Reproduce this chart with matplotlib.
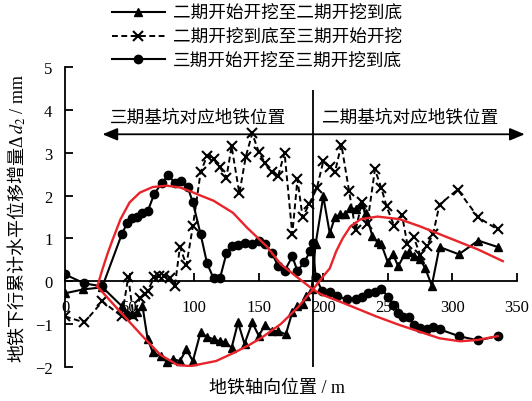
import matplotlib
matplotlib.use('Agg')
import matplotlib.pyplot as plt

plt.rcParams['font.family'] = ['Liberation Serif', 'Noto Sans CJK SC']
plt.rcParams['mathtext.fontset'] = 'stix'

# 二期开始开挖至二期开挖到底
x1 = [0, 14, 29, 44, 48, 52, 56, 60, 64, 68, 74, 79, 84, 89, 94, 99, 105, 110, 115, 120,
      124, 129, 134, 139, 145, 150, 155, 160, 165, 171, 176, 180, 184, 187, 191, 194, 200, 205, 209, 213,
      217, 221, 225, 229, 233, 238, 242, 245, 250, 254, 258, 263, 266, 270, 275, 279, 284, 290, 305, 320, 335]
y1 = [-0.28, -0.19, -0.14, -0.58, -0.77, -0.77, -0.72, -0.58, -1.35, -1.66,
      -1.75, -1.89, -1.82, -1.86, -1.59, -1.86, -1.19, -1.3, -1.35, -1.4,
      -1.42, -1.55, -0.96, -1.46, -0.96, -1.27, -1.02, -1.16, -1.16, -1.24,
      -0.72, -0.58, -0.54, -0.35, -0.19, 0.86, 1.98, 1.12, 1.49, 1.56,
      1.56, 1.72, 1.68, 1.8, 1.6, 1.05, 0.91, 0.86, 0.44, 0.63,
      0.35, 0.63, 0.68, 0.6, 0.51, 0.3, -0.1, 0.8, 0.63, 0.95, 0.8]

# 二期开挖到底至三期开始开挖
x2 = [0, 15, 29, 44, 49, 53, 58, 62, 64, 69, 73, 77, 81, 85, 89, 94, 99, 105, 110, 115,
      120, 125, 129, 135, 140, 145, 150, 155, 160, 165, 170, 176, 180, 184, 189, 195, 200, 205, 209, 214,
      220, 225, 230, 234, 240, 245, 249, 255, 261, 265, 270, 275, 280, 285, 290, 304, 320, 335]
y2 = [-0.82, -0.96, -0.47, -0.82, 0.1, -0.82, -0.4, -0.3, -0.23, 0.09,
      0.12, 0.12, 0.07, -0.12, 0.8, 0.38, 1.28, 2.54, 2.93, 2.86,
      2.66, 2.42, 3.15, 2.05, 2.91, 3.45, 3.02, 2.75, 2.56, 2.45,
      3.0, 1.1, 2.38, 1.49, 1.8, 2.17, 2.8, 2.67, 2.54, 3.19,
      2.1, 1.19, 1.86, 1.33, 2.61, 2.17, 1.75, 1.28, 1.54, 0.88,
      1.03, 0.62, 0.82, 1.1, 1.79, 2.14, 1.49, 1.21]

# 三期开始开挖至三期开挖到底
x3 = [0, 15, 29, 44, 48, 52, 56, 60, 64, 69, 75, 80, 85, 90, 95, 99, 105, 110, 115, 120,
      125, 129, 134, 139, 145, 150, 155, 160, 165, 170, 176, 180, 185, 190, 192, 194, 199, 205, 211, 218,
      225, 230, 235, 240, 245, 250, 254, 258, 262, 266, 270, 275, 280, 285, 290, 305, 320, 335]
y3 = [0.16, -0.05, -0.12, 1.1, 1.35, 1.47, 1.5, 1.6, 1.63, 2.03,
      2.3, 2.47, 2.3, 2.33, 2.2, 1.84, 1.1, 0.42, 0.07, 0.07,
      0.65, 0.82, 0.84, 0.89, 0.86, 0.93, 0.86, 0.67, 0.36, 0.24,
      0.58, 0.24, 0.44, 0.7, 0.9, 0.1, -0.22, -0.25, -0.35, -0.42,
      -0.42, -0.37, -0.28, -0.24, -0.17, -0.36, -0.55, -0.75, -0.84, -0.84,
      -1.02, -1.08, -1.12, -1.06, -1.12, -1.28, -1.38, -1.28]

# 拟合曲线
xa = [25, 29, 33, 37, 43, 50, 58, 68, 79, 89, 97, 105, 115, 130, 141, 156, 167, 180, 192, 198,
      215, 241, 259, 267, 290, 306, 319, 335]
ya = [-0.12, 0.28, 0.65, 0.98, 1.45, 1.84, 2.07, 2.2, 2.23, 2.19,
      2.1, 2.0, 1.88, 1.6, 1.25, 0.82, 0.4, 0.09, -0.19, -0.3,
      -0.5, -0.82, -1.02, -1.1, -1.33, -1.4, -1.37, -1.28]
xb = [25, 43, 60, 74, 87, 97, 117, 130, 143, 153, 167, 180, 192, 200, 205, 210, 215, 221, 229, 242,
      259, 275, 285, 300, 320, 339]
yb = [-0.12, -0.72, -1.28, -1.72, -1.95, -1.98, -1.86, -1.68, -1.48, -1.3,
      -1.0, -0.62, -0.19, 0.12, 0.3, 0.7, 1.0, 1.28, 1.45, 1.51,
      1.45, 1.28, 1.16, 0.98, 0.74, 0.47]

labels = ['二期开始开挖至二期开挖到底', '二期开挖到底至三期开始开挖', '三期开始开挖至三期开挖到底']
region_labels = ['三期基坑对应地铁位置', '二期基坑对应地铁位置']
divide_x = 192

fig = plt.figure(figsize=(5.32, 4.02), dpi=100)
ax = fig.add_axes([65 / 532, 34 / 402, 452 / 532, 300 / 402])

ax.plot(x1, y1, '-', color='black', lw=1.5, marker='^', ms=6, label=labels[0], zorder=3)
ax.plot(x2, y2, color='black', lw=1.4, ls=(0, (3, 1.8)), marker='x', ms=6.5, mew=1.5,
        label=labels[1], zorder=3)
ax.plot(x3, y3, '-', color='black', lw=1.5, marker='o', ms=6, label=labels[2], zorder=3)
ax.plot(xa, ya, color='#e8242a', lw=1.7, zorder=4)
ax.plot(xb, yb, color='#e8242a', lw=1.7, zorder=4)

# 分界线和双向箭头
ax.vlines(divide_x, -2, 4.47, color='black', lw=1.3, zorder=2)
ax.annotate('', xy=(356, 3.43), xytext=(29, 3.43), annotation_clip=False,
            arrowprops=dict(arrowstyle='<|-|>,head_length=0.6,head_width=0.25', color='black',
                            lw=1.3, shrinkA=0, shrinkB=0, mutation_scale=15))
ax.text(103, 3.82, region_labels[0], ha='center', va='center', fontsize=12.7)
ax.text(267, 3.82, region_labels[1], ha='center', va='center', fontsize=12.7)

ax.set_xlim(0, 350)
ax.set_ylim(-2, 5)
ax.set_xticks(range(0, 351, 50))
ax.set_yticks(range(-2, 6))
ax.spines['top'].set_visible(False)
ax.spines['right'].set_visible(False)
ax.spines['bottom'].set_position(('data', 0))
for s in ['left', 'bottom']:
    ax.spines[s].set_linewidth(1.3)
ax.tick_params(axis='both', direction='in', length=5.5, width=1.3, labelsize=12)
ax.tick_params(axis='x', pad=13)
ax.tick_params(axis='y', pad=9)

fig.legend(loc='upper left', bbox_to_anchor=(112 / 532, 1 - 6 / 402), frameon=False,
           fontsize=12.7, handlelength=3.0, handletextpad=0.45, labelspacing=0.38,
           borderpad=0, borderaxespad=0)

fig.text(277 / 532, 1 - 388 / 402, '地铁轴向位置 / m', ha='center', va='center', fontsize=13)

# 纵轴标题分两段拼接
ya_text = fig.text(18 / 532, 0, '地铁下行累计水平位移增量Δ', rotation=90,
                   ha='center', va='bottom', fontsize=13)
yb_text = fig.text(18 / 532, 0, '$d_2$ / mm', rotation=90, ha='center', va='bottom', fontsize=13)
r = fig.canvas.get_renderer()
ha_px = ya_text.get_window_extent(r).height
hb_px = yb_text.get_window_extent(r).height
start = (402 - 218) - (ha_px + hb_px) / 2
ya_text.set_y(start / 402)
yb_text.set_y((start + ha_px) / 402)

fig.savefig('out.png', dpi=100)
